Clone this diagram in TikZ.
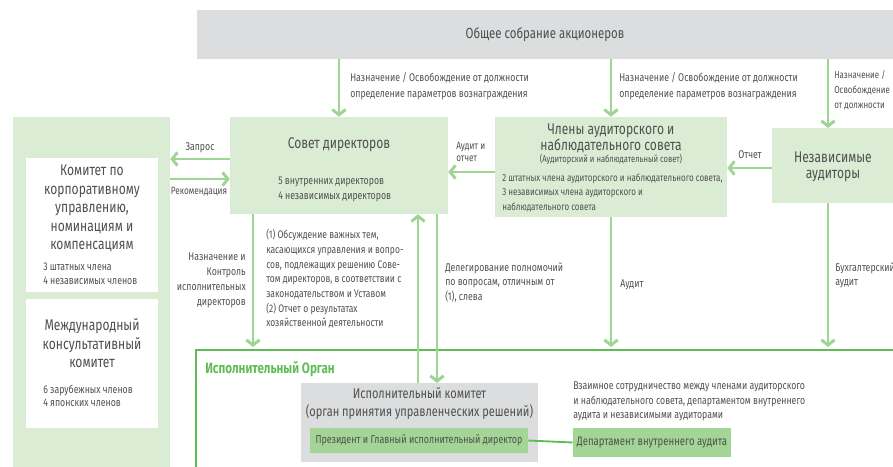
\documentclass[tikz,border=0pt]{standalone}
\usepackage{fontspec}
\setmainfont[FakeStretch=0.78]{Fira Sans}
\usetikzlibrary{arrows.meta,fit,positioning}
%
\definecolor{gsmgray}{RGB}{220,221,222}
\definecolor{panelgreen}{RGB}{218,237,212}
\definecolor{arrowgreen}{RGB}{158,213,148}
\definecolor{boxgreen}{RGB}{162,213,150}
\definecolor{framegreen}{RGB}{96,189,86}
\definecolor{txtgray}{RGB}{80,80,80}
%
\tikzset{
  panel/.style={inner sep=0pt, fill=#1},
  lbl/.style={inner sep=0pt, text=txtgray, font={\fontsize{8.4}{#1}\selectfont}},
  lbl/.default=11,
  ttl/.style={inner sep=0pt, text=txtgray, align=center, font={\fontsize{11.6}{#1}\selectfont}},
  ttl/.default=13.9,
  arr/.style={draw=arrowgreen, line width=2.2pt, -{Straight Barb[length=4pt,width=10pt]}},
  frame/.style={draw=framegreen, line width=1.6pt},
  link/.style={draw=framegreen, line width=1.4pt},
}
%
\begin{document}
\begin{tikzpicture}[x=0.75pt,y=-0.75pt]
%
\useasboundingbox (0,0) rectangle (893,467);
%
% shareholders
\node[panel=gsmgray, fit={(197,10) (893,59)}] (gsm) {};
\node[ttl, font={\fontsize{11}{13}\selectfont}] (gsmtxt) at (gsm.center) {Общее собрание акционеров};
%
% left column
\node[panel=panelgreen, fit={(13,117) (170,467)}] (side) {};
\node[panel=white, fit={(26,158) (158,292)}] (cgc) {};
\node[ttl] (cgctitle) at (92,208.5) {Комитет по\\корпоративному\\управлению,\\номинациям и\\компенсациям};
\node[lbl=10.2, align=left, anchor=west] (cgcinfo) at (43,273.5) {3 штатных члена\\4 независимых членов};
\node[panel=white, fit={(26,299) (158,428)}] (iac) {};
\node[ttl] (iactitle) at (92,343.5) {Международный\\консультативный\\комитет};
\node[lbl=10.2, align=left, anchor=west] (iacinfo) at (43,396) {6 зарубежных членов\\4 японских членов};
%
% board
\node[panel=panelgreen, fit={(230,117) (448,214)}] (board) {};
\node[ttl] (boardtitle) at (339,145) {Совет директоров};
\node[lbl=11.2, align=left, anchor=west] (boardinfo) at (278,189.5) {5 внутренних директоров\\4 независимых директоров};
%
% audit and supervisory board
\node[panel=panelgreen, fit={(495,117) (727,217)}] (audit) {};
\node[ttl=12] (audittitle) at (611,138) {Члены аудиторского и\\наблюдательного совета};
\node[lbl, font={\fontsize{7.3}{8}\selectfont}] (auditsub) at (611,159) {(Аудиторский и наблюдательный совет)};
\node[lbl, align=left, anchor=west, font={\fontsize{7.7}{10.9}\selectfont}] (auditinfo) at (502,192.5) {2 штатных члена аудиторского и наблюдательного совета,\\3 независимых члена аудиторского и\\наблюдательного совета};
%
% independent auditors
\node[panel=panelgreen, fit={(772,128) (893,203)}] (indep) {};
\node[ttl=12] (indeptitle) at (833,167) {Независимые\\аудиторы};
%
% executive organ
\coordinate (frm) at (196,350);
\coordinate (frmr) at (893,350);
\coordinate (frmb) at (196,467);
\draw[frame] (frmb) -- (frm) -- (frmr);
\node[inner sep=0pt, anchor=west, text=framegreen, font={\fontsize{11.2}{12}\selectfont\bfseries}] (orgtitle) at (205,369) {Исполнительный Орган};
\node[panel=gsmgray, fit={(301,383) (538,462)}] (excom) {};
\node[ttl=13.5, font={\fontsize{10.6}{13.5}\selectfont}] (excomtitle) at (419.5,404) {Исполнительный комитет\\(орган принятия управленческих решений)};
\node[panel=boxgreen, fit={(310,428) (528,453)}] (prez) {};
\node[lbl, font={\fontsize{8.6}{10}\selectfont}] (prezttl) at (prez.center) {Президент и Главный исполнительный директор};
\node[panel=boxgreen, fit={(573,428) (731,457)}] (dept) {};
\node[lbl, font={\fontsize{9.2}{10}\selectfont}] (deptttl) at (dept.center) {Департамент внутреннего аудита};
\node[lbl=10.9, align=left, anchor=west] (coop) at (573,401.5) {Взаимное сотрудничество между членами аудиторского\\и наблюдательного совета, департаментом внутреннего\\аудита и независимыми аудиторами};
\draw[link] (prez.east) -- (dept.west);
%
% from shareholders
\draw[arr] (gsm.south -| board.north) -- (board.north);
\node[lbl=12, align=left, anchor=west] (lblboard) at (350,86) {Назначение / Освобождение от должности\\определение параметров вознаграждения};
\draw[arr] (gsm.south -| audit.north) -- (audit.north);
\node[lbl=12, align=left, anchor=west] (lblaudit) at (619,86) {Назначение / Освобождение от должности\\определение параметров вознаграждения};
\coordinate (ia) at (828,128);
\draw[arr] (gsm.south -| ia) -- (ia);
\node[lbl, align=left, anchor=west, font={\fontsize{7.6}{11.2}\selectfont}] (lblindep) at (834,90) {Назначение /\\Освобождение\\от должности};
%
% board and committees
\coordinate (req) at (230,159);
\draw[arr] (req) -- (req -| side.east);
\node[lbl] (lblreq) at (200,148) {Запрос};
\coordinate (rec) at (170,179);
\draw[arr] (rec) -- (rec -| board.west);
\node[lbl, font={\fontsize{7.9}{10}\selectfont}] (lblrec) at (199,192) {Рекомендация};
%
% reports
\coordinate (rep) at (495,172);
\draw[arr] (rep) -- (rep -| board.east);
\node[lbl, align=left, anchor=west, font={\fontsize{7.9}{9.5}\selectfont}] (lblrep) at (456,152) {Аудит и\\отчет};
\coordinate (rep2) at (772,168);
\draw[arr] (rep2) -- (rep2 -| audit.east);
\node[lbl] (lblrep2) at (750,155) {Отчет};
%
% down to executive organ
\coordinate (ctl) at (253,347);
\draw[arr] (board.south -| ctl) -- (ctl);
\node[lbl=11.2, align=right, anchor=east] (lblctl) at (246,280.5) {Назначение и\\Контроль\\исполнительных\\директоров};
\node[lbl, align=left, anchor=west, font={\fontsize{8.2}{11}\selectfont}] (lblissues) at (266,279) {(1) Обсуждение важных тем,\\касающихся управления и вопро-\\сов, подлежащих решению Сове-\\том директоров, в соответствии с\\законодательством и Уставом\\(2) Отчет о результатах\\хозяйственной деятельности};
\draw[arr] (excom.north -| 418,0) -- (board.south -| 418,0);
\coordinate (dlg) at (437,383);
\draw[arr] (board.south -| dlg) -- (dlg);
\node[lbl=10.9, align=left, anchor=west] (lbldlg) at (445,282.5) {Делегирование полномочий\\по вопросам, отличным от\\(1), слева};
\coordinate (aud) at (611,347);
\draw[arr] (audit.south -| aud) -- (aud);
\node[lbl, anchor=west] (lblaud) at (620,285) {Аудит};
\coordinate (acc) at (828,347);
\draw[arr] (indep.south -| acc) -- (acc);
\node[lbl=11, align=left, anchor=west] (lblacc) at (835,275.5) {Бухгалтерский\\аудит};
%
\end{tikzpicture}
\end{document}
